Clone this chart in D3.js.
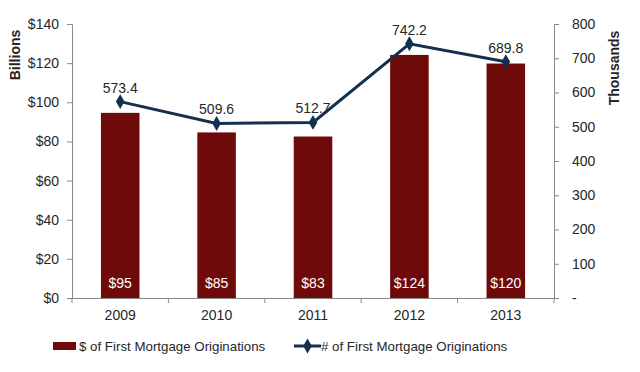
<!DOCTYPE html>
<html>
<head>
<meta charset="utf-8">
<script src="https://cdn.jsdelivr.net/npm/d3@7"></script>
<style>
  body { margin: 0; background: #fff; }
  svg { font-family: "Liberation Sans", Arial, sans-serif; }
  .axis path, .axis line { stroke: #898989; }
  .axis text { font-size: 14px; fill: #262626; }
</style>
</head>
<body>
<div id="chart"></div>
<script>
// chart values
var years = ["2009", "2010", "2011", "2012", "2013"];
var dollars = [94.6, 84.6, 82.5, 124.2, 119.8];       // $ billions
var counts = [573.4, 509.6, 512.7, 742.2, 689.8];     // thousands
var leftTicks = [0, 20, 40, 60, 80, 100, 120, 140];
var rightTicks = [0, 100, 200, 300, 400, 500, 600, 700, 800];
var seriesNames = ["$ of First Mortgage Originations", "# of First Mortgage Originations"];

var width = 640, height = 372;
var margin = {top: 24, right: 86, bottom: 74, left: 72};
var barColor = "#6f0a0b", lineColor = "#13304f";

var svg = d3.select("#chart").append("svg")
    .attr("width", width)
    .attr("height", height);

var x = d3.scaleBand()
    .domain(years)
    .range([margin.left, width - margin.right])
    .paddingInner(0.6)
    .paddingOuter(0.3);

var yL = d3.scaleLinear().domain([0, 140]).range([height - margin.bottom, margin.top]);
var yR = d3.scaleLinear().domain([0, 800]).range([height - margin.bottom, margin.top]);

// axes
var xAxis = svg.append("g")
    .attr("class", "axis")
    .attr("transform", "translate(0," + yL(0) + ")")
    .call(d3.axisBottom(x).tickSize(0).tickPadding(12));
// category boundary ticks
var bounds = d3.range(years.length + 1).map(function(i) { return margin.left + i * (width - margin.left - margin.right) / years.length; });
xAxis.selectAll(".bound").data(bounds).enter().append("line")
    .attr("class", "bound")
    .attr("x1", function(d) { return d; }).attr("x2", function(d) { return d; })
    .attr("y1", 0).attr("y2", 5)
    .attr("stroke", "#898989");

svg.append("g")
    .attr("class", "axis")
    .attr("transform", "translate(" + margin.left + ",0)")
    .call(d3.axisLeft(yL).tickValues(leftTicks).tickSize(5).tickPadding(8)
      .tickFormat(function(d) { return "$" + d; }));

svg.append("g")
    .attr("class", "axis")
    .attr("transform", "translate(" + (width - margin.right) + ",0)")
    .call(d3.axisRight(yR).tickValues(rightTicks).tickSize(5).tickPadding(13)
      .tickFormat(function(d) { return d === 0 ? "-" : d; }));

svg.selectAll(".axis .domain").attr("stroke", "#898989");

// axis titles
svg.append("text")
    .attr("transform", "translate(20,55) rotate(-90)")
    .attr("text-anchor", "middle")
    .style("font-size", "14px").style("font-weight", "bold").style("fill", "#262626")
    .text("Billions");
svg.append("text")
    .attr("transform", "translate(619,68) rotate(-90)")
    .attr("text-anchor", "middle")
    .style("font-size", "14px").style("font-weight", "bold").style("fill", "#262626")
    .text("Thousands");

// bars
svg.selectAll(".bar").data(dollars).enter().append("rect")
    .attr("class", "bar")
    .attr("x", function(d, i) { return x(years[i]); })
    .attr("width", x.bandwidth())
    .attr("y", function(d) { return yL(d); })
    .attr("height", function(d) { return yL(0) - yL(d); })
    .attr("fill", barColor);

svg.selectAll(".barlabel").data(dollars).enter().append("text")
    .attr("class", "barlabel")
    .attr("x", function(d, i) { return x(years[i]) + x.bandwidth() / 2; })
    .attr("y", yL(0) - 10)
    .attr("text-anchor", "middle")
    .style("font-size", "14px").style("fill", "#fff")
    .text(function(d) { return "$" + d3.format(".0f")(d); });

// line
var line = d3.line()
    .x(function(d, i) { return x(years[i]) + x.bandwidth() / 2; })
    .y(function(d) { return yR(d); });

svg.append("path")
    .datum(counts)
    .attr("d", line)
    .attr("fill", "none")
    .attr("stroke", lineColor)
    .attr("stroke-width", 3);

var diamond = d3.symbol().type(d3.symbolDiamond).size(64);
svg.selectAll(".marker").data(counts).enter().append("path")
    .attr("class", "marker")
    .attr("transform", function(d, i) { return "translate(" + (x(years[i]) + x.bandwidth() / 2) + "," + yR(d) + ")"; })
    .attr("d", diamond)
    .attr("fill", lineColor);

svg.selectAll(".linelabel").data(counts).enter().append("text")
    .attr("class", "linelabel")
    .attr("x", function(d, i) { return x(years[i]) + x.bandwidth() / 2; })
    .attr("y", function(d) { return yR(d) - 9; })
    .attr("text-anchor", "middle")
    .style("font-size", "14px").style("fill", "#262626")
    .text(function(d) { return d3.format(".1f")(d); });

// legend
var lg = svg.append("g").attr("transform", "translate(0,346)");
lg.append("rect").attr("x", 53).attr("y", -4).attr("width", 23).attr("height", 8).attr("fill", barColor);
lg.append("text").attr("x", 79).attr("y", 5)
    .style("font-size", "13.3px").style("fill", "#262626").text(seriesNames[0]);
lg.append("line").attr("x1", 294).attr("x2", 321).attr("y1", 0).attr("y2", 0)
    .attr("stroke", lineColor).attr("stroke-width", 3);
lg.append("path").attr("transform", "translate(307.5,0)").attr("d", diamond).attr("fill", lineColor);
lg.append("text").attr("x", 321).attr("y", 5)
    .style("font-size", "13.3px").style("fill", "#262626").text(seriesNames[1]);
</script>
</body>
</html>
